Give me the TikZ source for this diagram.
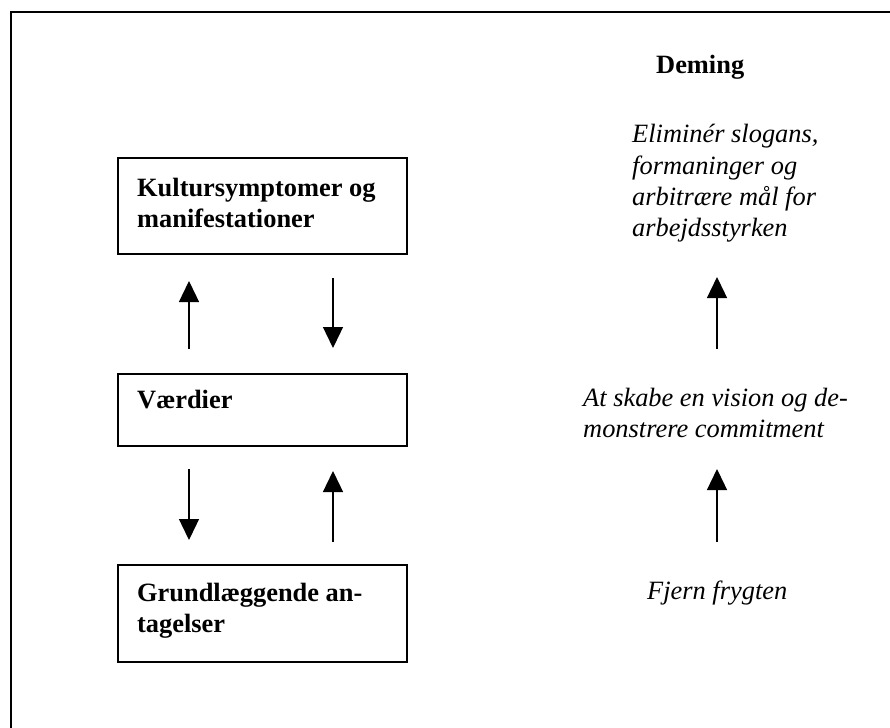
\documentclass[tikz,border=0pt]{standalone}
\usepackage{fontspec}
\setmainfont{Liberation Serif}
\usetikzlibrary{arrows.meta}
\begin{document}
\begin{tikzpicture}[x=1pt,y=-1pt,
  frame/.style={line width=2.5pt},
  levelbox/.style={draw, line width=2pt, minimum width=289pt, minimum height=#1,
    inner sep=0pt, anchor=north west},
  % multi-line text: the base anchor sits on the last line's baseline
  boxtext/.style={anchor=base west, align=left, inner sep=0pt,
    font=\fontsize{26.4}{31}\selectfont\bfseries},
  note/.style={anchor=base west, align=left, inner sep=0pt,
    font=\fontsize{26.4}{31}\selectfont\itshape},
  heading/.style={anchor=base west, inner sep=0pt,
    font=\fontsize{26.4}{31}\selectfont\bfseries},
  flow/.style={line width=1.3pt, -{Triangle[width=20pt,length=21pt]}},
]
\useasboundingbox (0,0) rectangle (890,727);

% open page frame (left and top edges only)
\draw[frame] (11,735) -- (11,12) -- (900,12);

% Schein's three levels
\node[levelbox=96pt] (b1) at (117,157) {};
\node[levelbox=72pt] (b2) at (117,373) {};
\node[levelbox=97pt] (b3) at (117,564) {};

\node[boxtext] (t1) at (137,227) {Kultursymptomer og\\manifestationer};
\node[boxtext] (t2) at (137,408) {Værdier};
\node[boxtext] (t3) at (137,632) {Grundlæggende an-\\tagelser};

% arrow columns
\coordinate (cl) at (189,0);
\coordinate (cr) at (333,0);

\draw[flow, shorten <=24pt, shorten >=26pt] (b2.north -| cl) -- (b1.south -| cl);
\draw[flow, shorten <=23pt, shorten >=25pt] (b1.south -| cr) -- (b2.north -| cr);
\draw[flow, shorten <=22pt, shorten >=24pt] (b2.south -| cl) -- (b3.north -| cl);
\draw[flow, shorten <=22pt, shorten >=24pt] (b3.north -| cr) -- (b2.south -| cr);

% Deming column
\node[heading] (dem) at (656,74) {Deming};
\node[note] (d1) at (632,236) {Eliminér slogans,\\formaninger og\\arbitrære mål for\\arbejdsstyrken};
\node[note] (d2) at (583,437) {At skabe en vision og de-\\monstrere commitment};
\node[note] (d3) at (647,599) {Fjern frygten};

\coordinate (a1s) at (717,349);
\coordinate (a1e) at (717,277);
\coordinate (a2s) at (717,542);
\coordinate (a2e) at (717,469);
\draw[flow] (a1s) -- (a1e);
\draw[flow] (a2s) -- (a2e);
\end{tikzpicture}
\end{document}
